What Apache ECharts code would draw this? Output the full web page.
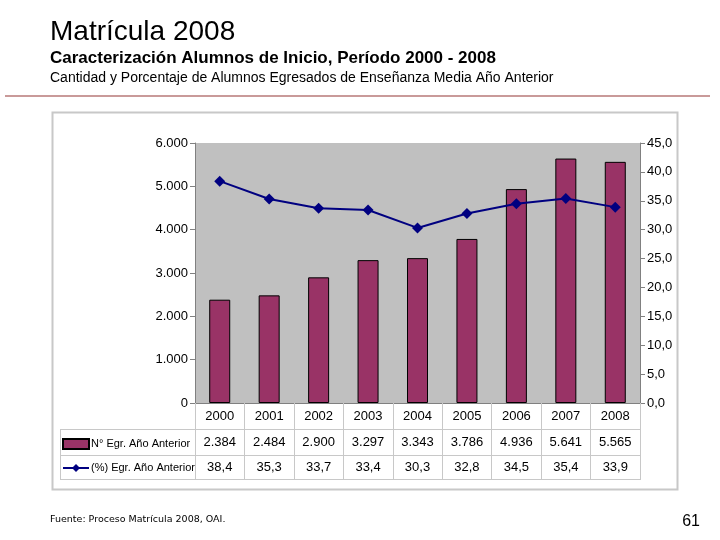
<!DOCTYPE html>
<html>
<head>
<meta charset="utf-8">
<script src="https://cdn.jsdelivr.net/npm/echarts@6/dist/echarts.min.js"></script>
<style>html,body{margin:0;padding:0;background:#fff;}#c{width:720px;height:540px;}</style>
</head>
<body>
<div id="c"></div>
<script>
const years = ['2000','2001','2002','2003','2004','2005','2006','2007','2008'];
const egresados = [2384, 2484, 2900, 3297, 3343, 3786, 4936, 5641, 5565];
const porcentaje = [38.4, 35.3, 33.7, 33.4, 30.3, 32.8, 34.5, 35.4, 33.9];
const seriesNames = ['N° Egr. Año Anterior', '(%) Egr. Año Anterior'];
const titleText = 'Matrícula 2008';
const subtitleText = 'Caracterización Alumnos de Inicio, Período 2000 - 2008';
const subsubText = 'Cantidad y Porcentaje de Alumnos Egresados de Enseñanza Media Año Anterior';
const sourceText = 'Fuente: Proceso Matrícula 2008, OAI.';
const pageNum = '61';

const NF = '"Liberation Sans Narrow","Arial Narrow","Liberation Sans",Arial,sans-serif';
const SF = '"Liberation Sans",Arial,sans-serif';
function thousands(v){ return String(Math.round(v)).replace(/\B(?=(\d{3})+(?!\d))/g,'.'); }
function dec1(v){ return v.toFixed(1).replace('.',','); }

const chart = echarts.init(document.getElementById('c'), null, {renderer:'canvas'});
const gridL = 195, gridR = 640, gridT = 143, gridB = 403;
chart.setOption({
  animation:false,
  backgroundColor:'#ffffff',
  title:[
    {text:titleText,left:45,top:13,textStyle:{fontFamily:SF,fontSize:28,fontWeight:'normal',color:'#000'}},
    {text:subtitleText,left:45,top:45,textStyle:{fontFamily:SF,fontSize:17,fontWeight:'bold',color:'#000'}},
    {text:subsubText,left:45,top:66,textStyle:{fontFamily:SF,fontSize:14,fontWeight:'normal',color:'#000'}},
    {text:sourceText,left:45,top:510,textStyle:{fontFamily:'"DejaVu Sans",Tahoma,sans-serif',fontSize:9.5,fontWeight:'normal',color:'#000'}},
    {text:pageNum,right:15,top:509,textStyle:{fontFamily:SF,fontSize:16,fontWeight:'normal',color:'#000'}}
  ],
  graphic:[
    {type:'line',z:-5,shape:{x1:5,y1:96,x2:710,y2:96},style:{stroke:'#943634',lineWidth:1.2}},
    {type:'rect',z:-10,shape:{x:52.5,y:112.5,width:625,height:377},style:{fill:'#ffffff',stroke:'#c8c8c8',lineWidth:2}},
    {type:'line',z:5,shape:{x1:60,y1:429.5,x2:gridR,y2:429.5},style:{stroke:'#c8c8c8',lineWidth:1}},
    {type:'line',z:5,shape:{x1:60,y1:455.5,x2:gridR,y2:455.5},style:{stroke:'#c8c8c8',lineWidth:1}},
    {type:'line',z:5,shape:{x1:60,y1:479.5,x2:gridR,y2:479.5},style:{stroke:'#c8c8c8',lineWidth:1}},
    {type:'line',z:5,shape:{x1:60.5,y1:429,x2:60.5,y2:480},style:{stroke:'#c8c8c8',lineWidth:1}}
  ],
  legend:{
    orient:'vertical',left:57,top:436,itemWidth:26,itemHeight:10,itemGap:8,
    padding:[0,0,0,5],
    data:[{name:seriesNames[0],icon:'rect'},{name:seriesNames[1]}],
    textStyle:{fontFamily:NF,fontSize:11,color:'#000',lineHeight:16,padding:[0,0,0,-3]}
  },
  grid:{left:gridL,right:720-gridR,top:gridT,bottom:540-gridB,show:true,backgroundColor:'#c0c0c0',borderWidth:0},
  xAxis:{
    type:'category',data:years,
    axisLine:{lineStyle:{color:'#808080',width:1}},
    axisTick:{show:true,length:77,lineStyle:{color:'#c8c8c8'}},
    axisLabel:{
      interval:0,margin:1,
      formatter:function(v,i){ return '{a|'+v+'}\n{a|'+thousands(egresados[i])+'}\n{a|'+dec1(porcentaje[i])+'}'; },
      rich:{a:{fontFamily:NF,fontSize:13,color:'#000',lineHeight:25.5,align:'center'}}
    }
  },
  yAxis:[
    {type:'value',min:0,max:6000,interval:1000,position:'left',
     axisLine:{show:true,lineStyle:{color:'#808080'}},axisTick:{show:true,length:5,lineStyle:{color:'#808080'}},
     splitLine:{show:false},
     axisLabel:{margin:7,fontFamily:NF,fontSize:13,color:'#000',formatter:thousands}},
    {type:'value',min:0,max:45,interval:5,position:'right',
     axisLine:{show:true,lineStyle:{color:'#808080'}},axisTick:{show:true,length:5,lineStyle:{color:'#808080'}},
     splitLine:{show:false},
     axisLabel:{margin:7,fontFamily:NF,fontSize:13,color:'#000',formatter:dec1}}
  ],
  series:[
    {name:seriesNames[0],type:'bar',yAxisIndex:0,data:egresados,barWidth:21,
     itemStyle:{color:'#993366',borderColor:'#000',borderWidth:1}},
    {name:seriesNames[1],type:'line',yAxisIndex:1,data:porcentaje,symbol:'diamond',symbolSize:11,
     lineStyle:{color:'#000080',width:2},itemStyle:{color:'#000080'}}
  ]
});
</script>
</body>
</html>
